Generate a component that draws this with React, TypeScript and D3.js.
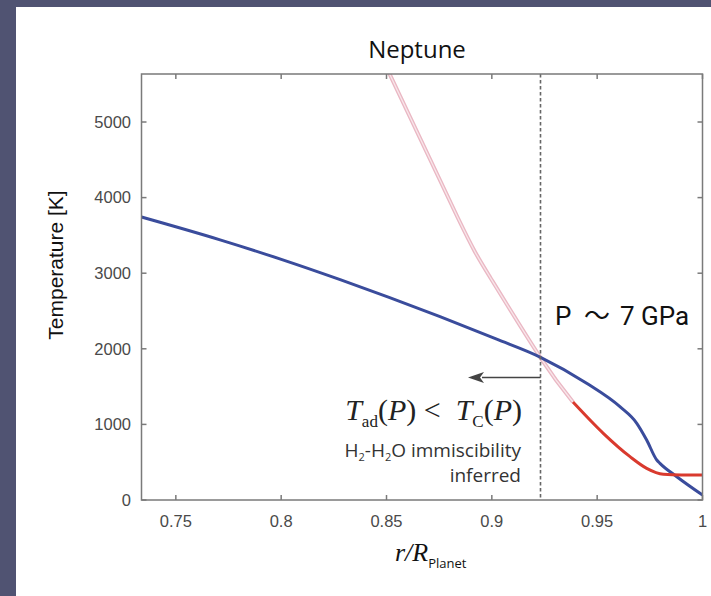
import React from "react";
import * as d3 from "d3";

const xTicks = [0.75, 0.8, 0.85, 0.9, 0.95, 1];
const xTickLabels = ["0.75", "0.8", "0.85", "0.9", "0.95", "1"];
const yTicks = [0, 1000, 2000, 3000, 4000, 5000];
const yTickLabels = ["0", "1000", "2000", "3000", "4000", "5000"];

// adiabat (blue): [r/R, T]
const adiabatR = [0.7337, 0.771, 0.8004, 0.828, 0.8512, 0.8754, 0.902, 0.9229, 0.945, 0.9608, 0.9688, 0.9735, 0.9783, 0.9798, 0.9878, 1.0];
const adiabatT = [3743, 3441, 3180, 2915, 2681, 2425, 2131, 1891, 1544, 1234, 1015, 794, 529, 485, 308, 66];
// critical curve extrapolated (pink)
const criticalExtR = [0.849, 0.8839, 0.8991, 0.9229, 0.9385];
const criticalExtT = [5780, 3730, 2950, 1891, 1296];
// critical curve (red)
const criticalR = [0.9385, 0.9529, 0.9656, 0.9735, 0.9814, 0.99, 1.0];
const criticalT = [1296, 882, 573, 419, 340, 331, 331];

const transitionR = 0.9231;
const title = "Neptune";
const yLabel = "Temperature [K]";

export default function App() {
  const W = 711, H = 596;
  const left = 141.5, right = 702.5, top = 74, bottom = 500;
  const x = d3.scaleLinear().domain([0.7337, 1.0]).range([left, right]);
  const y = d3.scaleLinear().domain([0, 5635]).range([bottom, top]);
  const line = d3.line<[number, number]>().x(d => x(d[0])).y(d => y(d[1])).curve(d3.curveMonotoneX);
  const smooth = d3.line<[number, number]>().x(d => x(d[0])).y(d => y(d[1])).curve(d3.curveNatural);
  const blue = adiabatR.map((r, i) => [r, adiabatT[i]] as [number, number]);
  const pink = criticalExtR.map((r, i) => [r, criticalExtT[i]] as [number, number]);
  const red = criticalR.map((r, i) => [r, criticalT[i]] as [number, number]);
  const axisCol = "#7a7a7a";
  const tickFont = "'Liberation Sans', Arial, sans-serif";
  const tl = 5;
  const xd = x(transitionR);
  const arrowY = 377.5;
  return (
    <div style={{ position: "absolute", left: 0, top: 0 }}>
      <svg width={W} height={H} style={{ display: "block" }}>
        <rect x={0} y={0} width={W} height={H} fill="#505372" />
        <rect x={16} y={7} width={W - 16} height={H - 7} fill="#ffffff" />
        <defs>
          <clipPath id="plotclip">
            <rect x={left} y={top} width={right - left} height={bottom - top} />
          </clipPath>
        </defs>
        <text x={417} y={58} textAnchor="middle" fontFamily="'Open Sans', sans-serif" fontSize={24} fill="#111">{title}</text>
        {xTicks.map((t, i) => (
          <g key={"xt" + i}>
            <line x1={x(t)} x2={x(t)} y1={bottom} y2={bottom - tl} stroke={axisCol} strokeWidth={1.5} />
            <line x1={x(t)} x2={x(t)} y1={top} y2={top + tl} stroke={axisCol} strokeWidth={1.5} />
            <text x={x(t)} y={527} textAnchor="middle" fontFamily={tickFont} fontSize={16.5} fill="#4a4a4a">{xTickLabels[i]}</text>
          </g>
        ))}
        {yTicks.map((t, i) => (
          <g key={"yt" + i}>
            <line x1={left} x2={left + tl} y1={y(t)} y2={y(t)} stroke={axisCol} strokeWidth={1.5} />
            <line x1={right} x2={right - tl} y1={y(t)} y2={y(t)} stroke={axisCol} strokeWidth={1.5} />
            <text x={131} y={y(t)} dy="0.35em" textAnchor="end" fontFamily={tickFont} fontSize={16.5} fill="#4a4a4a">{yTickLabels[i]}</text>
          </g>
        ))}
        <text transform={`translate(63,265) rotate(-90)`} textAnchor="middle" fontFamily={tickFont} fontSize={21} fill="#111">{yLabel}</text>
        <text x={395} y={561} fontFamily="'Liberation Serif', 'Times New Roman', serif" fontStyle="italic" fontSize={26} fill="#111">
          r/R<tspan fontStyle="normal" fontFamily="'Open Sans', sans-serif" fontSize={13} dy={7}>Planet</tspan>
        </text>
        <g clipPath="url(#plotclip)">
          <path d={smooth(pink) || ""} fill="none" stroke="#eab8c4" strokeWidth={4} />
          <path d={smooth(pink) || ""} fill="none" stroke="#f8e6ea" strokeWidth={1.3} />
          <path d={line(blue) || ""} fill="none" stroke="#3a4c9c" strokeWidth={3} strokeLinejoin="round" />
          <path d={line(red) || ""} fill="none" stroke="#d93a2e" strokeWidth={3} />
        </g>
        <line x1={xd} x2={xd} y1={top} y2={bottom} stroke="#666" strokeWidth={1.6} strokeDasharray="3.5,2.5" />
        <line x1={xd} x2={482} y1={arrowY} y2={arrowY} stroke="#444" strokeWidth={1.6} />
        <path d={`M468,${arrowY} L484,${arrowY - 5.5} L480,${arrowY} L484,${arrowY + 5.5} Z`} fill="#444" />
        <rect x={left} y={top} width={right - left} height={bottom - top} fill="none" stroke={axisCol} strokeWidth={1.5} />
        <text x={522} y={420} textAnchor="end" fontFamily="'Liberation Serif', 'Times New Roman', serif" fontSize={30} fill="#222" style={{ whiteSpace: "pre" }}>
          <tspan fontStyle="italic">T</tspan><tspan fontSize={17} dy={7}>ad</tspan><tspan dy={-7}>(</tspan><tspan fontStyle="italic">P</tspan><tspan>) &lt;  </tspan><tspan fontStyle="italic">T</tspan><tspan fontSize={17} dy={7}>C</tspan><tspan dy={-7}>(</tspan><tspan fontStyle="italic">P</tspan><tspan>)</tspan>
        </text>
        <text x={521} y={457} textAnchor="end" fontFamily="'Open Sans', sans-serif" fontSize={19} fill="#333">
          H<tspan fontSize={11} dy={4}>2</tspan><tspan dy={-4}>-H</tspan><tspan fontSize={11} dy={4}>2</tspan><tspan dy={-4}>O immiscibility</tspan>
        </text>
        <text x={521} y={482} textAnchor="end" fontFamily="'Open Sans', sans-serif" fontSize={19} fill="#333">inferred</text>
        <text y={325} fontFamily="Roboto, 'Noto Sans CJK JP', sans-serif" fontSize={26} fill="#111">
          <tspan x={555}>P</tspan><tspan x={584}>～</tspan><tspan x={620}>7 GPa</tspan>
        </text>
      </svg>
    </div>
  );
}
